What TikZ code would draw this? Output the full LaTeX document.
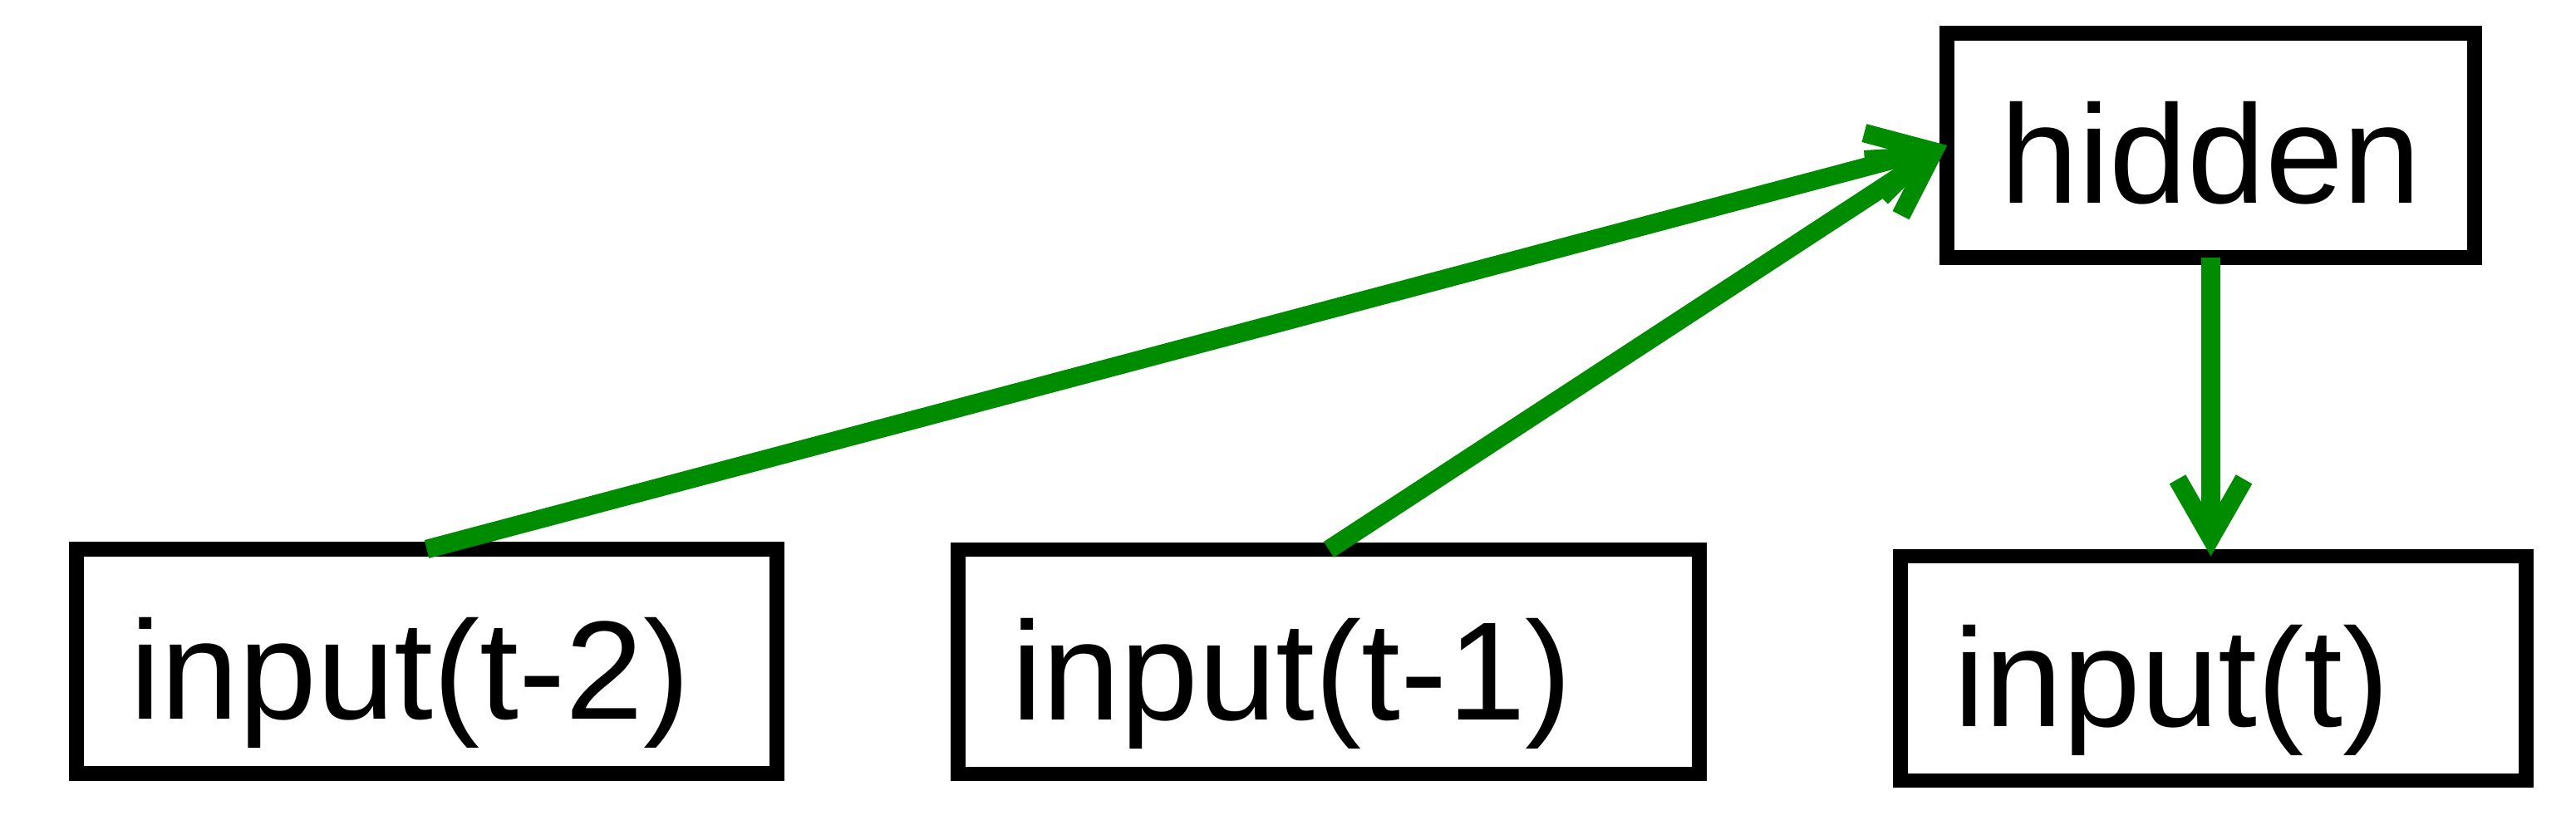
\documentclass[tikz,border=0pt]{standalone}
\usepackage{fontspec}
\setmainfont{Liberation Sans}
\usetikzlibrary{arrows.meta}
\definecolor{arrowgreen}{RGB}{0,140,0}

\begin{document}
\begin{tikzpicture}[box/.style={draw,line width=5pt,outer sep=0pt,inner xsep=0.64cm,inner ysep=0pt,
    minimum height=2.7cm,text height=1.4cm,text depth=0pt,align=left,font=\fontsize{48}{57}\selectfont},
  link/.style={arrowgreen,line width=6.4pt,-{Straight Barb[length=0.7cm,width=0.8cm]}}]
\useasboundingbox (0,0) rectangle (31,9.99);

\node[box,text width=7.15cm] (tm2) at (5.135,2.03) {input(t-2)};
\node[box,text width=7.64cm] (tm1) at (15.99,2.025) {input(t-1)};
\node[box,text width=6.25cm] (t) at (26.635,1.945) {input(t)};
\node[box,minimum width=6.33cm] (hidden) at (26.605,8.24) {hidden};

\draw[link] (tm2.north) -- (hidden.west);
\draw[link] (tm1.north) -- (hidden.west);
\draw[link] (hidden.south) -- (hidden.south |- t.north);
\end{tikzpicture}
\end{document}
